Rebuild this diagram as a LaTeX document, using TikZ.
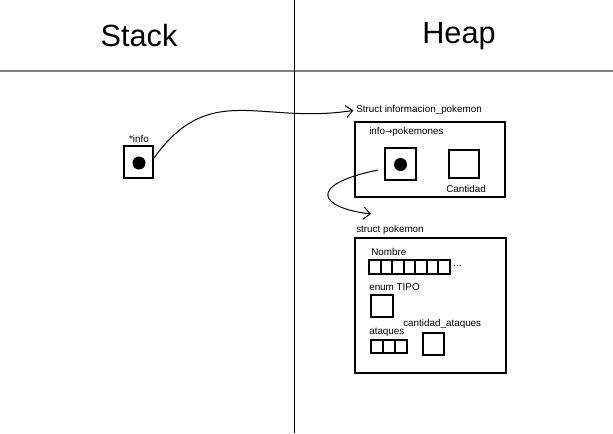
\documentclass[tikz,border=0pt]{standalone}
\usepackage{fontspec}
\setmainfont{Liberation Sans}
\newfontfamily\arrowfont{DejaVu Sans}
\usetikzlibrary{arrows.meta}
\newcommand{\pxl}{0.75pt}
\tikzset{
  box/.style={draw, line width=1.5pt, inner sep=0pt},
  dot/.style={circle, fill=black, inner sep=0pt, minimum size=13*\pxl},
  lbl/.style={inner sep=0pt, font=\fontsize{7.4}{8.8}\selectfont},
  title/.style={inner sep=0pt, font=\fontsize{23}{26}\selectfont},
  ptrarrow/.style={line width=0.75pt, -{Straight Barb[length=5pt,width=9pt]}},
}
\begin{document}
\begin{tikzpicture}[x=0.75pt,y=-0.75pt]% Draw the frame
	\useasboundingbox (0,0) rectangle (613,433);
	\draw[gray, line width=1.5pt] (0,71) -- (613,71);
	\draw[black, line width=0.75pt] (294,0) -- (294,433);
	\node[title] (stack) at (139,36) {Stack};
	\node[title] (heap) at (459,36) {Heap};
	% Stack
	\node[lbl] (infolbl) at (139,139) {*info};
	\node[box, minimum width=29*\pxl, minimum height=32*\pxl] (ptrbox) at (138.5,162) {};
	\node[dot] (ptrdot) at (139,163) {};
	% Struct informacion_pokemon
	\node[lbl, anchor=west] (infstruct) at (356,110) {Struct informacion\_pokemon};
	\node[box, minimum width=150*\pxl, minimum height=75*\pxl] (infobox) at (430,159.5) {};
	\node[lbl, anchor=west] (pokslbl) at (369,132) {info{\arrowfont\fontsize{6.5}{8}\selectfont →}pokemones};
	\node[box, minimum width=31*\pxl, minimum height=32*\pxl] (pokptr) at (400.5,164) {};
	\node[dot] (pokdot) at (400.5,164.5) {};
	\node[box, minimum width=30*\pxl, minimum height=28*\pxl] (cantbox) at (464,164) {};
	\node[lbl] (cantlbl) at (466,189) {Cantidad};
	% struct pokemon
	\node[lbl, anchor=west] (pokstruct) at (356,230) {struct pokemon};
	\node[box, minimum width=151*\pxl, minimum height=135*\pxl] (pokbox) at (430.5,305.5) {};
	\node[lbl, anchor=west] (nomlbl) at (371,252) {Nombre};
	\node[box, minimum width=11.6*\pxl, minimum height=14*\pxl] (nom0) at (374.8,267) {};
	\node[box, minimum width=11.6*\pxl, minimum height=14*\pxl] (nom1) at (386.4,267) {};
	\node[box, minimum width=11.6*\pxl, minimum height=14*\pxl] (nom2) at (397.9,267) {};
	\node[box, minimum width=11.6*\pxl, minimum height=14*\pxl] (nom3) at (409.5,267) {};
	\node[box, minimum width=11.6*\pxl, minimum height=14*\pxl] (nom4) at (421.1,267) {};
	\node[box, minimum width=11.6*\pxl, minimum height=14*\pxl] (nom5) at (432.6,267) {};
	\node[box, minimum width=11.6*\pxl, minimum height=14*\pxl] (nom6) at (444.2,267) {};
	\node[lbl, anchor=west] (nomdots) at (453,266) {...};
	\node[lbl, anchor=west] (tipolbl) at (369,287) {enum TIPO};
	\node[box, minimum width=22*\pxl, minimum height=22*\pxl] (tipobox) at (382,306) {};
	\node[lbl, anchor=west] (atqlbl) at (369,332) {ataques};
	\node[box, minimum width=12*\pxl, minimum height=13*\pxl] (atq0) at (377,346.5) {};
	\node[box, minimum width=12*\pxl, minimum height=13*\pxl] (atq1) at (389,346.5) {};
	\node[box, minimum width=12*\pxl, minimum height=13*\pxl] (atq2) at (401,346.5) {};
	\node[lbl, anchor=west] (catlbl) at (403,324) {cantidad\_ataques};
	\node[box, minimum width=21*\pxl, minimum height=22*\pxl] (catbox) at (433.5,344) {};
	% Pointers
	\draw[ptrarrow, shorten >=2pt] ([yshift=3pt]ptrbox.east) .. controls (210,80) and (260,125) .. (infstruct.west);
	\coordinate (pokfrom) at (378,170);
	\coordinate (pokto) at (371,214);
	\draw[ptrarrow] (pokfrom) .. controls (305,185) and (320,208) .. (pokto);
\end{tikzpicture}
\end{document}
